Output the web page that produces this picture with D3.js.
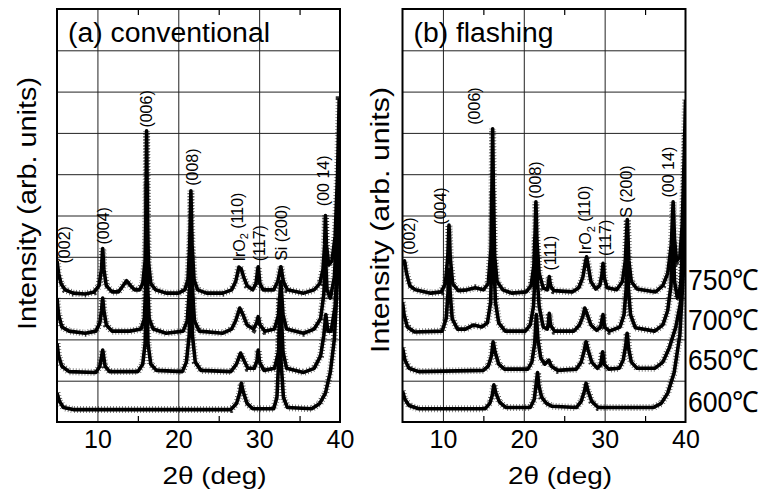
<!DOCTYPE html>
<html>
<head>
<meta charset="utf-8">
<script src="https://cdn.jsdelivr.net/npm/d3@7"></script>
<style>
  html, body { margin: 0; padding: 0; background: #fff; }
  svg { display: block; }
  text { font-family: "Liberation Sans", Arial, Helvetica, sans-serif; fill: #000; }
</style>
</head>
<body>
<svg id="chart" width="764" height="496"></svg>
<script>
// ---------- data (2θ in degrees, intensity in arb. units = grid divisions) ----------
const xTicks = [10, 20, 30, 40];
const xMinorTicks = [15, 25, 35];
const yGrid = [1, 2, 3, 4, 5, 6, 7, 8, 9];
const temperatures = ["750℃", "700℃", "650℃", "600℃"];
const tempLabelLevels = [3.2, 2.23, 1.26, 0.25];

// (a) conventional
const conv750 = [[5.0,3.9],[5.2,3.6],[5.5,3.35],[6.0,3.2],[7.0,3.12],[8.5,3.1],[9.6,3.15],[10.2,3.3],[10.5,3.7],[10.65,4.2],[10.8,3.7],[11.1,3.3],[11.8,3.15],[12.6,3.15],[13.1,3.28],[13.6,3.42],[14.1,3.3],[14.6,3.2],[15.2,3.2],[15.6,3.35],[15.9,3.9],[16.0,5.0],[16.08,7.05],[16.18,5.0],[16.3,3.9],[16.6,3.35],[17.2,3.2],[18.5,3.12],[20.0,3.12],[20.8,3.2],[21.2,3.45],[21.42,4.3],[21.56,5.6],[21.7,4.3],[21.95,3.45],[22.4,3.2],[23.5,3.12],[25.5,3.12],[26.6,3.2],[27.1,3.4],[27.5,3.75],[27.8,3.7],[28.1,3.5],[28.5,3.3],[29.2,3.2],[29.6,3.35],[29.88,3.76],[30.1,3.35],[30.5,3.2],[31.8,3.2],[32.3,3.4],[32.69,3.76],[33.0,3.4],[33.5,3.2],[35.5,3.12],[36.8,3.2],[37.5,3.35],[37.9,3.7],[38.1,4.3],[38.2,5.0],[38.32,4.3],[38.6,3.8],[39.0,3.9],[39.4,4.5],[39.7,6.0],[39.9,7.8],[40.0,7.8]];
const conv700 = [[5.0,3.0],[5.2,2.6],[5.6,2.3],[6.5,2.2],[8.5,2.15],[9.8,2.2],[10.3,2.4],[10.5,2.7],[10.65,3.0],[10.8,2.7],[11.1,2.35],[11.8,2.2],[14.0,2.2],[15.4,2.25],[15.8,2.5],[15.98,3.3],[16.08,5.8],[16.2,3.3],[16.4,2.5],[16.9,2.25],[18.5,2.15],[20.6,2.2],[21.1,2.45],[21.42,3.3],[21.56,4.6],[21.72,3.3],[22.0,2.45],[22.6,2.2],[25.5,2.15],[26.6,2.25],[27.1,2.45],[27.6,2.76],[28.0,2.6],[28.5,2.35],[29.3,2.25],[29.7,2.4],[29.88,2.55],[30.1,2.35],[30.7,2.2],[31.9,2.25],[32.4,2.6],[32.69,3.4],[32.95,2.6],[33.4,2.25],[35.5,2.15],[36.8,2.25],[37.6,2.5],[38.0,3.1],[38.2,4.0],[38.4,3.2],[38.8,3.0],[39.3,3.5],[39.7,5.0],[40.0,7.0]];
const conv650 = [[5.0,1.9],[5.2,1.6],[5.6,1.35],[6.5,1.22],[9.8,1.2],[10.3,1.35],[10.65,1.74],[10.95,1.35],[11.5,1.22],[15.0,1.22],[15.6,1.4],[15.9,1.9],[16.08,3.6],[16.25,1.9],[16.6,1.4],[17.3,1.25],[20.5,1.22],[21.0,1.45],[21.35,2.1],[21.56,3.4],[21.75,2.1],[22.1,1.45],[22.8,1.25],[26.5,1.22],[27.2,1.4],[27.7,1.67],[28.1,1.5],[28.6,1.3],[29.4,1.3],[29.75,1.5],[29.88,1.74],[30.05,1.45],[30.6,1.25],[31.9,1.3],[32.4,1.7],[32.69,2.8],[32.95,1.7],[33.4,1.3],[35.5,1.2],[36.8,1.3],[37.6,1.6],[38.0,2.1],[38.25,2.6],[38.5,2.2],[38.9,2.2],[39.4,2.8],[39.8,4.5],[40.0,6.5]];
const conv600 = [[5.0,0.7],[5.3,0.5],[5.8,0.35],[7.0,0.3],[26.5,0.3],[27.2,0.45],[27.6,0.7],[27.8,0.94],[28.0,0.75],[28.5,0.45],[29.2,0.32],[31.8,0.32],[32.2,0.6],[32.42,1.5],[32.55,3.0],[32.7,1.5],[33.0,0.6],[33.5,0.35],[36.5,0.32],[37.5,0.45],[38.2,0.7],[38.8,1.2],[39.3,2.0],[39.7,3.5],[40.0,5.5]];

// (b) flashing
const flash750 = [[5.0,3.8],[5.25,3.9],[5.5,3.6],[5.9,3.3],[6.6,3.2],[8.5,3.12],[9.8,3.15],[10.3,3.35],[10.6,4.0],[10.75,4.77],[10.9,4.0],[11.2,3.35],[11.9,3.18],[13.0,3.2],[14.0,3.25],[15.0,3.2],[15.6,3.35],[15.95,4.2],[16.05,5.5],[16.15,7.1],[16.25,5.5],[16.4,4.0],[16.7,3.4],[17.4,3.2],[18.5,3.12],[20.3,3.15],[20.9,3.3],[21.25,3.8],[21.4,4.6],[21.5,5.33],[21.62,4.4],[21.9,3.6],[22.4,3.25],[22.9,3.2],[23.05,3.35],[23.15,3.52],[23.3,3.3],[23.7,3.18],[26.0,3.15],[26.8,3.25],[27.3,3.5],[27.6,3.85],[27.77,4.0],[27.95,3.8],[28.3,3.4],[28.9,3.22],[29.4,3.3],[29.65,3.55],[29.8,3.84],[29.95,3.5],[30.3,3.25],[31.5,3.2],[32.2,3.4],[32.55,3.9],[32.8,4.9],[33.0,3.9],[33.3,3.4],[34.0,3.22],[36.3,3.15],[37.2,3.3],[37.8,3.6],[38.25,4.3],[38.47,5.33],[38.65,4.4],[38.9,3.9],[39.3,4.0],[39.6,4.8],[39.85,6.5],[40.0,7.8]];
const flash700 = [[5.0,2.9],[5.2,2.6],[5.6,2.3],[6.5,2.18],[9.9,2.2],[10.4,2.5],[10.62,3.1],[10.75,3.7],[10.9,3.1],[11.15,2.5],[11.8,2.25],[12.8,2.25],[13.8,2.35],[14.8,2.3],[15.5,2.4],[15.9,2.9],[16.05,4.0],[16.15,5.6],[16.28,4.0],[16.5,2.9],[16.9,2.4],[17.7,2.2],[20.2,2.2],[20.8,2.35],[21.2,2.8],[21.4,3.6],[21.5,4.5],[21.62,3.6],[21.9,2.8],[22.4,2.3],[22.9,2.25],[23.05,2.4],[23.15,2.63],[23.3,2.35],[23.8,2.2],[26.2,2.2],[26.9,2.35],[27.3,2.55],[27.55,2.76],[27.85,2.6],[28.3,2.35],[29.0,2.22],[29.5,2.3],[29.8,2.6],[30.0,2.3],[30.6,2.2],[31.9,2.3],[32.4,2.6],[32.65,3.2],[32.8,3.9],[32.95,3.2],[33.2,2.6],[33.8,2.28],[36.2,2.2],[37.2,2.35],[37.8,2.7],[38.2,3.3],[38.45,4.4],[38.65,3.4],[39.0,3.0],[39.4,3.3],[39.75,4.8],[40.0,7.0]];
const flash650 = [[5.0,1.8],[5.3,1.5],[5.8,1.3],[7.0,1.22],[15.0,1.25],[15.6,1.35],[16.0,1.6],[16.2,1.94],[16.45,1.7],[16.9,1.4],[17.6,1.28],[20.5,1.28],[21.0,1.45],[21.35,1.9],[21.55,2.6],[21.75,2.0],[22.1,1.55],[22.6,1.4],[23.1,1.5],[23.4,1.35],[24.2,1.25],[26.5,1.28],[27.1,1.45],[27.5,1.75],[27.7,1.94],[27.95,1.75],[28.4,1.45],[29.1,1.3],[29.5,1.38],[29.75,1.7],[29.95,1.4],[30.5,1.28],[31.8,1.3],[32.3,1.5],[32.6,1.85],[32.78,2.15],[32.95,1.8],[33.3,1.45],[34.0,1.3],[36.2,1.3],[37.2,1.45],[38.0,1.8],[38.8,2.3],[39.4,2.9],[39.8,4.5],[40.0,6.0]];
const flash600 = [[5.0,0.75],[5.3,0.55],[5.8,0.4],[7.0,0.32],[15.2,0.32],[15.8,0.45],[16.1,0.65],[16.3,0.9],[16.55,0.7],[17.0,0.48],[17.8,0.35],[20.8,0.35],[21.3,0.55],[21.55,0.95],[21.7,1.2],[21.85,0.9],[22.2,0.6],[22.8,0.45],[23.5,0.38],[26.5,0.35],[27.1,0.5],[27.5,0.75],[27.7,0.94],[27.95,0.75],[28.4,0.5],[29.2,0.35],[36.0,0.35],[37.0,0.45],[37.8,0.7],[38.6,1.2],[39.3,2.1],[39.7,3.5],[40.0,5.0]];

// peak annotations: [text, 2θ, intensity]
const convPeakLabels = [["(002)",5.87,4.29],["(004)",10.69,4.75],["(006)",16.0,7.58],["(008)",21.8,6.17],["IrO2 (110)",27.5,4.72],["(117)",30.0,4.33],["Si (200)",32.69,4.58],["(00 14)",38.0,5.84]];
const flashPeakLabels = [["(002)",5.8,4.5],["(004)",9.64,5.23],["(006)",13.84,7.65],["(008)",21.44,5.86],["(111)",23.23,4.09],["IrO2 (110)",27.68,4.89],["(117)",30.15,4.46],["S (200)",32.69,5.58],["(00 14)",37.88,6.05]];

// ---------- layout ----------
const svg = d3.select("#chart");
const plotTop = 9, plotBottom = 422;
const y = d3.scaleLinear().domain([0, 10]).range([plotBottom, plotTop]);

const panels = [
  { left: 57, right: 340, title: "(a) conventional", titleLen: 202, series: [conv750, conv700, conv650, conv600], labels: convPeakLabels, yLabelX: 36, yLabelY: 203.5, yLabelLen: 253 },
  { left: 402.5, right: 685.5, title: "(b) flashing", titleLen: 140, series: [flash750, flash700, flash650, flash600], labels: flashPeakLabels, yLabelX: 389, yLabelY: 220, yLabelLen: 266 }
];

panels.forEach((p, pi) => {
  const x = d3.scaleLinear().domain([5, 40]).range([p.left, p.right]);
  const g = svg.append("g");

  // grid
  g.append("g").attr("transform", `translate(0,${plotBottom})`)
    .call(d3.axisBottom(x).tickValues([10, 20, 30]).tickSize(-(plotBottom - plotTop)).tickFormat(""))
    .call(s => s.select(".domain").remove())
    .call(s => s.selectAll("line").attr("stroke", "#222").attr("stroke-width", 1));
  g.append("g").attr("transform", `translate(${p.left},0)`)
    .call(d3.axisLeft(y).tickValues(yGrid).tickSize(-(p.right - p.left)).tickFormat(""))
    .call(s => s.select(".domain").remove())
    .call(s => s.selectAll("line").attr("stroke", "#222").attr("stroke-width", 1));

  // minor ticks (inward), top and bottom
  g.append("g").attr("transform", `translate(0,${plotBottom})`)
    .call(d3.axisBottom(x).tickValues(xMinorTicks).tickSize(-6).tickFormat(""))
    .call(s => s.select(".domain").remove())
    .call(s => s.selectAll("line").attr("stroke", "#000").attr("stroke-width", 1.2));
  g.append("g").attr("transform", `translate(0,${plotTop})`)
    .call(d3.axisTop(x).tickValues(xMinorTicks).tickSize(-6).tickFormat(""))
    .call(s => s.select(".domain").remove())
    .call(s => s.selectAll("line").attr("stroke", "#000").attr("stroke-width", 1.2));

  // traces: a light, sparse wide dashed stroke under a solid core, imitating the noisy scan
  const clipId = "clip" + pi;
  svg.append("clipPath").attr("id", clipId).append("rect")
    .attr("x", p.left).attr("y", plotTop).attr("width", p.right - p.left).attr("height", plotBottom - plotTop + 4);
  const line = d3.line().x(d => x(d[0])).y(d => y(d[1])).curve(d3.curveLinear);
  const tg = g.append("g").attr("clip-path", `url(#${clipId})`);
  tg.selectAll("path.fuzz").data(p.series).join("path").attr("class", "fuzz")
    .attr("d", line)
    .attr("fill", "none").attr("stroke", "#000").attr("stroke-width", 7)
    .attr("stroke-opacity", 0.8)
    .attr("stroke-dasharray", "0.6,2.4");
  tg.selectAll("path.core").data(p.series).join("path").attr("class", "core")
    .attr("d", line)
    .attr("fill", "none").attr("stroke", "#000").attr("stroke-width", 3.6)
    .attr("stroke-linejoin", "round");

  // frame
  g.append("rect").attr("x", p.left).attr("y", plotTop)
    .attr("width", p.right - p.left).attr("height", plotBottom - plotTop)
    .attr("fill", "none").attr("stroke", "#000").attr("stroke-width", 2);

  // x tick labels
  g.append("g").attr("transform", `translate(0,${plotBottom})`)
    .call(d3.axisBottom(x).tickValues(xTicks).tickSize(0).tickPadding(8).tickFormat(d3.format("d")))
    .call(s => s.select(".domain").remove())
    .call(s => s.selectAll("text").attr("font-size", 25).attr("font-family", "Liberation Sans, Arial, sans-serif").attr("fill", "#000").attr("dy", "0.71em"));

  // x axis title
  g.append("text").attr("x", (p.left + p.right) / 2 + 16).attr("y", 484)
    .attr("text-anchor", "middle").attr("font-size", 24)
    .attr("textLength", 104).attr("lengthAdjust", "spacingAndGlyphs")
    .text("2θ (deg)");

  // y axis title
  g.append("text")
    .attr("transform", `translate(${p.yLabelX},${p.yLabelY}) rotate(-90)`)
    .attr("text-anchor", "middle").attr("font-size", 25)
    .attr("textLength", p.yLabelLen).attr("lengthAdjust", "spacingAndGlyphs")
    .text("Intensity (arb. units)");

  // panel title
  g.append("text").attr("x", p.left + 11).attr("y", 42)
    .attr("font-size", 27)
    .attr("textLength", p.titleLen).attr("lengthAdjust", "spacingAndGlyphs")
    .text(p.title);

  // peak labels
  p.labels.forEach(([txt, tt, ii]) => {
    const t = g.append("text")
      .attr("transform", `translate(${x(tt)},${y(ii)}) rotate(-90)`)
      .attr("text-anchor", "middle").attr("dy", "0.35em")
      .attr("font-size", 16);
    if (txt.startsWith("IrO2")) {
      t.append("tspan").text("IrO");
      t.append("tspan").attr("font-size", 11).attr("dy", "0.35em").text("2");
      t.append("tspan").attr("dy", "-0.35em").text(txt.slice(4));
    } else {
      t.text(txt);
    }
  });
});

// temperature labels (right of panel b)
svg.append("g").selectAll("text").data(temperatures).join("text")
  .attr("x", 688).attr("y", (d, i) => y(tempLabelLevels[i]))
  .attr("font-size", 29)
  .attr("textLength", 71).attr("lengthAdjust", "spacingAndGlyphs")
  .text(d => d);
</script>
</body>
</html>
